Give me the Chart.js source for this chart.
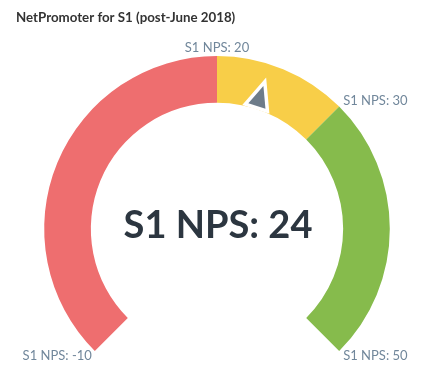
<!DOCTYPE html>
<html>
<head>
<meta charset="utf-8">
<script src="https://cdn.jsdelivr.net/npm/chart.js@4/dist/chart.umd.min.js"></script>
<style>
  html, body { margin: 0; padding: 0; background: #fff; }
  #wrap { width: 435px; height: 375px; }
</style>
</head>
<body>
<div id="wrap"><canvas id="gauge" width="435" height="375"></canvas></div>
<script>
// gauge bands: -10..20 red, 20..30 yellow, 30..50 green
const bandLimits = [-10, 20, 30, 50];
const bandColors = ['#ee6e6f', '#f8ce48', '#86bb4c'];
const seriesName = 'S1 NPS';
const currentValue = 24;
const chartTitle = 'NetPromoter for S1 (post-June 2018)';

const bandSizes = bandLimits.slice(1).map((v, i) => v - bandLimits[i]);

const gaugeDecor = {
    id: 'gaugeDecor',
    afterDatasetsDraw(chart) {
        const ctx = chart.ctx;
        const arcs = chart.getDatasetMeta(0).data;
        const first = arcs[0];
        const last = arcs[arcs.length - 1];
        const cx = first.x;
        const cy = first.y;
        const outer = first.outerRadius;
        const inner = first.innerRadius;
        const a0 = first.startAngle;
        const a1 = last.endAngle;
        const min = bandLimits[0];
        const max = bandLimits[bandLimits.length - 1];
        const toAngle = (v) => a0 + (v - min) / (max - min) * (a1 - a0);

        ctx.save();

        // needle (small triangle sitting on the inner edge)
        const na = toAngle(currentValue);
        const ux = Math.cos(na), uy = Math.sin(na);
        const tx = -uy, ty = ux;
        const baseR = inner + 3;
        const tipR = inner + 24;
        const half = 9;
        ctx.beginPath();
        ctx.moveTo(cx + ux * tipR, cy + uy * tipR);
        ctx.lineTo(cx + ux * baseR + tx * half, cy + uy * baseR + ty * half);
        ctx.lineTo(cx + ux * baseR - tx * half, cy + uy * baseR - ty * half);
        ctx.closePath();
        ctx.lineJoin = 'miter';
        ctx.lineWidth = 7;
        ctx.strokeStyle = '#ffffff';
        ctx.stroke();
        ctx.fillStyle = '#6e7c89';
        ctx.fill();

        // band limit labels
        ctx.font = '13px Lato';
        ctx.fillStyle = '#71879b';
        bandLimits.forEach((v) => {
            const a = toAngle(v);
            const dx = Math.cos(a), dy = Math.sin(a);
            const px = cx + dx * outer;
            const py = cy + dy * outer;
            const text = `${seriesName}: ${v}`;
            if (Math.abs(dx) < 0.2) {
                ctx.textAlign = 'center';
                ctx.textBaseline = 'bottom';
                ctx.fillText(text, px, py - 2);
            } else if (dy < 0) {
                ctx.textAlign = dx > 0 ? 'left' : 'right';
                ctx.textBaseline = 'bottom';
                ctx.fillText(text, px + (dx > 0 ? 4 : -4), py + 1);
            } else {
                ctx.textAlign = dx > 0 ? 'left' : 'right';
                ctx.textBaseline = 'middle';
                ctx.fillText(text, px + (dx > 0 ? 4 : -3), py + 5);
            }
        });

        // big value in the middle
        ctx.font = 'bold 38px Lato';
        ctx.fillStyle = '#2c3640';
        ctx.textAlign = 'center';
        ctx.textBaseline = 'alphabetic';
        ctx.fillText(`${seriesName}: ${currentValue}`, cx + 1, cy + 9);

        // title
        ctx.font = 'bold 13.3px Lato';
        ctx.fillStyle = '#333333';
        ctx.textAlign = 'left';
        ctx.textBaseline = 'middle';
        ctx.fillText(chartTitle, 16, 18);

        ctx.restore();
    }
};

new Chart(document.getElementById('gauge'), {
    type: 'doughnut',
    data: {
        labels: bandLimits.slice(1).map((v, i) => `${bandLimits[i]} to ${v}`),
        datasets: [{
            data: bandSizes,
            backgroundColor: bandColors,
            borderWidth: 0,
            hoverOffset: 0,
        }]
    },
    options: {
        responsive: false,
        animation: false,
        rotation: -135,
        circumference: 270,
        cutout: '73%',
        layout: {
            padding: { top: 56, left: 44, right: 45, bottom: 24 }
        },
        plugins: {
            legend: { display: false },
            tooltip: { enabled: false },
        },
        events: [],
    },
    plugins: [gaugeDecor]
});
</script>
</body>
</html>
